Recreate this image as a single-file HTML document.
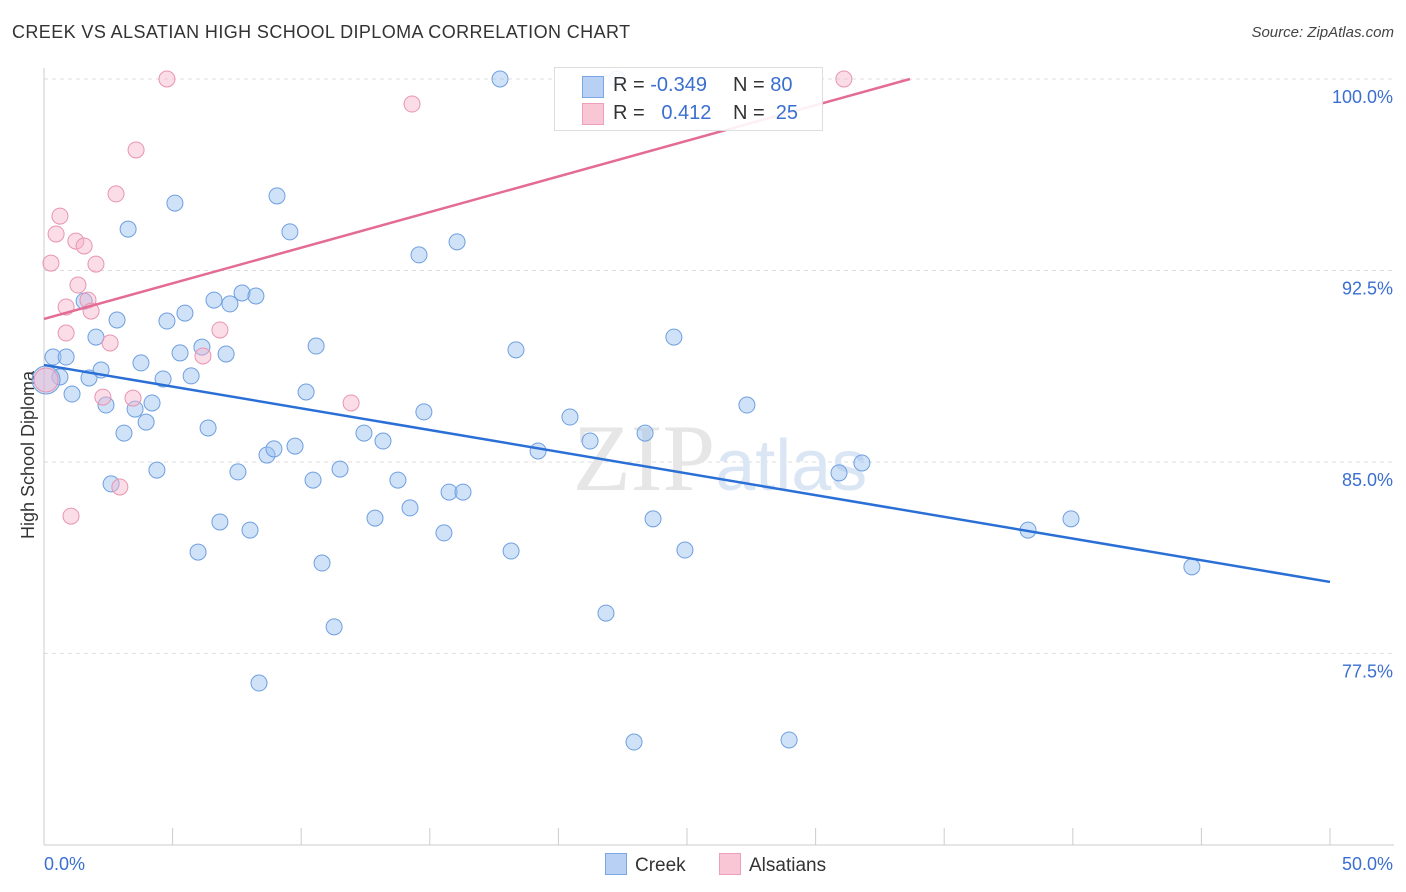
<!DOCTYPE html>
<html><head><meta charset="utf-8">
<style>
body{margin:0;background:#fff;font-family:"Liberation Sans",sans-serif;}
#wrap{position:relative;width:1406px;height:892px;overflow:hidden;}
.t{position:absolute;white-space:nowrap;}
</style></head>
<body>
<div id="wrap">
<div class="t" style="left:12px;top:22px;font-size:18px;letter-spacing:0.4px;color:#333;">CREEK VS ALSATIAN HIGH SCHOOL DIPLOMA CORRELATION CHART</div>
<div class="t" style="right:12px;top:24px;font-size:15px;color:#444;font-style:italic;">Source: ZipAtlas.com</div>
<svg id="svg" width="1406" height="892" style="position:absolute;left:0;top:0"></svg>
</div>
<script>
const blueX=[0.35,0.62,0.86,1.09,1.56,1.75,2.02,2.22,2.41,2.61,2.84,3.11,3.27,3.54,3.77,3.97,4.20,4.39,4.63,4.78,5.09,5.29,5.48,5.72,5.99,6.14,6.38,6.61,6.84,7.08,7.23,7.54,7.70,8.01,8.24,8.36,8.67,8.94,9.06,9.56,9.76,10.19,10.46,10.58,10.81,11.28,11.51,12.44,12.87,13.18,13.76,14.23,14.58,14.77,15.55,15.75,16.06,16.29,17.73,18.16,18.35,19.21,20.45,21.23,21.85,22.28,22.94,23.37,23.68,24.49,24.92,27.33,28.97,30.91,31.80,38.26,39.93,44.63,0.08];
const blueY=[89.11,88.33,89.11,87.66,91.30,88.29,89.89,88.60,87.23,84.14,90.56,86.13,94.12,87.07,88.88,86.56,87.31,84.68,88.25,90.52,95.14,89.27,90.83,88.37,81.47,89.50,86.33,91.34,82.65,89.23,91.19,84.61,91.62,82.33,91.50,76.34,85.27,85.51,95.42,94.01,85.62,87.74,84.29,89.54,81.04,78.54,84.72,86.13,82.80,85.82,84.29,83.20,93.11,86.96,82.22,83.82,93.62,83.82,100,81.51,89.39,85.43,86.76,85.82,79.08,100,74.03,86.13,82.77,89.89,81.55,87.23,74.11,84.57,84.96,82.33,82.77,80.89,88.21];
const pinkX=[0.08,0.27,0.47,0.62,0.86,0.86,1.05,1.24,1.32,1.56,1.71,1.83,2.02,2.29,2.57,2.80,2.95,3.46,3.58,4.78,6.18,6.84,11.94,14.31,31.10];
const pinkY=[88.21,92.79,93.93,94.63,91.07,90.05,82.88,93.65,91.93,93.46,91.34,90.91,92.75,87.54,89.66,95.50,84.02,87.50,97.22,100,89.15,90.17,87.31,99.02,100];
const blueTrend=[[0,88.8],[50,80.3]];
const pinkTrend=[[0,90.6],[33.67,100]];
const yTicks=[100,92.5,85,77.5];
const yTickLabels=["100.0%","92.5%","85.0%","77.5%"];
const xTickLabels=["0.0%","50.0%"];

const NS="http://www.w3.org/2000/svg";
const svg=document.getElementById('svg');
const X=v=>44+v*25.72, Y=v=>79+(100-v)*25.53;
function mk(tag,a){const e=document.createElementNS(NS,tag);for(const k in a)e.setAttribute(k,a[k]);svg.appendChild(e);return e;}
yTicks.forEach((t,i)=>{
 const g=mk('line',{x1:44,x2:1394,y1:Y(t),y2:Y(t),stroke:'#ddd','stroke-dasharray':'4,4'});
 
 
 const tx=mk('text',{x:1393,y:Y(t)+24,'text-anchor':'end','font-size':18,fill:'#3a6fd0','font-family':'Liberation Sans'});
 tx.textContent=yTickLabels[i];
 
 
});
const ax=mk('line',{x1:44,x2:44,y1:68,y2:845,stroke:'#ccc'});


const bx=mk('line',{x1:44,x2:1394,y1:845,y2:845,stroke:'#ccc'});


for(let i=0;i<=10;i++){const tk=mk('line',{x1:X(i*5),x2:X(i*5),y1:828,y2:845,stroke:'#ccc'});
 
 }
[[0,'start'],[50,'end']].forEach((p,i)=>{const tx=mk('text',{x:i?1393:44,y:870,'text-anchor':p[1],'font-size':18,fill:'#3a6fd0','font-family':'Liberation Sans'});tx.textContent=xTickLabels[i];
 
 });
const yt=mk('text',{x:34,y:455,transform:'rotate(-90 34 455)','text-anchor':'middle','font-size':18,fill:'#333','font-family':'Liberation Sans'});
yt.textContent='High School Diploma';


const wm=mk('text',{x:720,y:490,'text-anchor':'middle','font-size':95,fill:'#e6e6e6','font-family':'Liberation Serif'});
wm.innerHTML='ZIP<tspan fill="#dbe6f5" font-family="Liberation Sans" font-size="72">atlas</tspan>';


blueX.forEach((x,i)=>{const big=i===blueX.length-1;const c=mk('circle',{cx:X(x),cy:Y(blueY[i]),r:big?14:8,fill:'rgba(150,190,240,0.45)',stroke:'#6f9fe0','stroke-width':1});
 
 });
pinkX.forEach((x,i)=>{const c=mk('circle',{cx:X(x),cy:Y(pinkY[i]),r:i===0?12:8,fill:'rgba(246,180,204,0.45)',stroke:'#e994b0','stroke-width':1});
 
 });
const bl=mk('line',{x1:X(blueTrend[0][0]),y1:Y(blueTrend[0][1]),x2:X(blueTrend[1][0]),y2:Y(blueTrend[1][1]),stroke:'#2a6fd6','stroke-width':2.5});


const pl=mk('line',{x1:X(pinkTrend[0][0]),y1:Y(pinkTrend[0][1]),x2:X(pinkTrend[1][0]),y2:Y(pinkTrend[1][1]),stroke:'#e46c94','stroke-width':2.5});


</script>
<div class="t" style="left:554px;top:67px;width:267px;height:62px;border:1px solid #ddd;background:rgba(255,255,255,0.9);font-size:20px;">
 <div style="position:absolute;left:27px;top:8px;width:20px;height:20px;background:#b7d0f3;border:1px solid #7aa6e4"></div>
 <div style="position:absolute;left:27px;top:35px;width:20px;height:20px;background:#f9c6d6;border:1px solid #eea0ba"></div>
 <div class="t" style="left:58px;top:6px;color:#333">R = <span style="color:#3a6fd0">-0.349</span></div>
 <div class="t" style="left:178px;top:6px;color:#333">N = <span style="color:#3a6fd0">80</span></div>
 <div class="t" style="left:58px;top:34px;color:#333">R = &nbsp;&nbsp;<span style="color:#3a6fd0">0.412</span></div>
 <div class="t" style="left:178px;top:34px;color:#333">N = &nbsp;<span style="color:#3a6fd0">25</span></div>
</div>
<div class="t" style="left:605px;top:853px;font-size:19px;color:#333;">
 <span style="display:inline-block;width:20px;height:20px;background:#b7d0f3;border:1px solid #7aa6e4;vertical-align:-4px;margin-right:8px"></span>Creek</div>
<div class="t" style="left:719px;top:853px;font-size:19px;color:#333;">
 <span style="display:inline-block;width:20px;height:20px;background:#f9c6d6;border:1px solid #eea0ba;vertical-align:-4px;margin-right:8px"></span>Alsatians</div>
</body></html>
